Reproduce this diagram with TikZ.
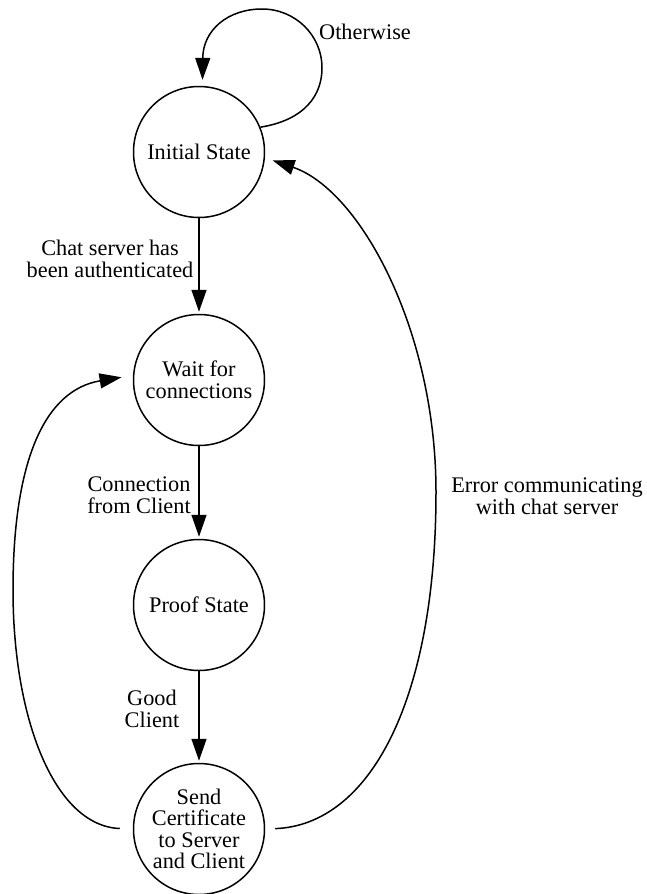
\documentclass[tikz,border=0pt]{standalone}
\usepackage{fontspec}
\setmainfont{Liberation Serif}
\usetikzlibrary{arrows.meta}
\begin{document}
\begin{tikzpicture}[x=1pt,y=-1pt,
  state/.style={circle,draw,line width=1.5pt,minimum size=131pt,inner sep=0pt,align=center,font=\fontsize{22.3}{21.5}\selectfont},
  lbl/.style={align=center,inner sep=0pt,font=\fontsize{22.3}{21.5}\selectfont},
  edge/.style={line width=1.5pt,-{Triangle[length=22pt,width=15pt]},shorten >=2pt}]
\useasboundingbox (0,0) rectangle (647,894);
\node[state] (I) at (199,152) {Initial State};
\node[state] (W) at (199,380) {Wait for\\connections};
\node[state] (P) at (199,605) {Proof State};
\node[state] (S) at (199,829) {Send\\Certificate\\to Server\\and Client};

\draw[edge] (I) -- (W);
\draw[edge] (W) -- (P);
\draw[edge] (P) -- (S);

\draw[edge,shorten >=6pt] (I.22) .. controls (305,120) and (322,95) .. (322,68)
  .. controls (322,35) and (295,9) .. (262,9)
  .. controls (228,9) and (203,30) .. (I.87);

\draw[edge,shorten <=13pt,shorten >=11.5pt] (S.180) .. controls (55,826) and (13,720) .. (13,590)
  .. controls (13,460) and (45,390) .. (W.176);

\draw[edge,shorten <=10pt,shorten >=8pt] (S.0) .. controls (370,825) and (436,700) .. (436,492)
  .. controls (436,330) and (360,190) .. (I.355);

\node[lbl] (l1) at (110,259) {Chat server has\\been authenticated};
\node[lbl] (l2) at (139,495) {Connection\\from Client};
\node[lbl] (l3) at (152,709) {Good\\Client};
\node[lbl] (l4) at (365,32) {Otherwise};
\node[lbl] (l5) at (547,496) {Error communicating\\with chat server};
\end{tikzpicture}
\end{document}
